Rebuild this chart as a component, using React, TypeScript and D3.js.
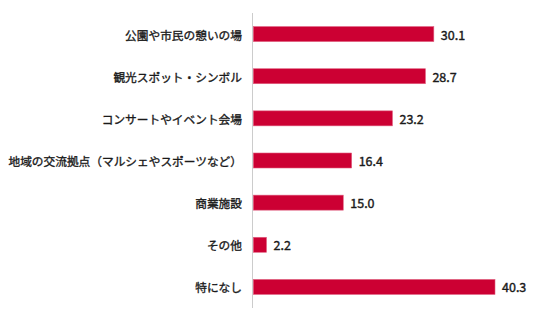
import React from "react";
import * as d3 from "d3";

const categories = [
  "公園や市民の憩いの場",
  "観光スポット・シンボル",
  "コンサートやイベント会場",
  "地域の交流拠点（マルシェやスポーツなど）",
  "商業施設",
  "その他",
  "特になし",
];
const values = [30.1, 28.7, 23.2, 16.4, 15.0, 2.2, 40.3];

const W = 536;
const H = 322;
const margin = { left: 252.5, top: 13, bottom: 14 };
const FONT = "'Noto Sans CJK JP', 'Noto Sans', sans-serif";

export default function App() {
  const x = d3.scaleLinear().domain([0, 40.3]).range([margin.left + 0.8, 495]);
  const y = d3
    .scaleBand<string>()
    .domain(categories)
    .range([margin.top, H - margin.bottom])
    .paddingInner(0.644)
    .paddingOuter(0.322);

  return (
    <svg
      width={W}
      height={H}
      style={{ position: "absolute", left: 0, top: 0, display: "block" }}
    >
      <rect width={W} height={H} fill="#fff" />
      {categories.map((c, i) => {
        const yy = y(c)!;
        const bw = y.bandwidth();
        return (
          <g key={c}>
            <rect
              x={x(0)}
              y={yy}
              width={x(values[i]) - x(0)}
              height={bw}
              fill="#cc0033"
              stroke="#e06080"
              strokeWidth={0.6}
            />
            <text
              x={margin.left - 10.5}
              y={yy + bw / 2}
              textAnchor="end"
              dominantBaseline="central"
              fontFamily={FONT}
              fontSize={11.7}
              fontWeight={400}
              fill="#1a1a1a"
              stroke="#1a1a1a"
              strokeWidth={0.35}
            >
              {c}
            </text>
            <text
              x={x(values[i]) + 7}
              y={yy + bw / 2}
              dominantBaseline="central"
              fontFamily={FONT}
              fontSize={12.5}
              fontWeight={400}
              fill="#1a1a1a"
              stroke="#1a1a1a"
              strokeWidth={0.4}
            >
              {values[i].toFixed(1)}
            </text>
          </g>
        );
      })}
      <line
        x1={margin.left}
        x2={margin.left}
        y1={margin.top}
        y2={H - margin.bottom}
        stroke="#cccccc"
        strokeWidth={1}
      />
    </svg>
  );
}
